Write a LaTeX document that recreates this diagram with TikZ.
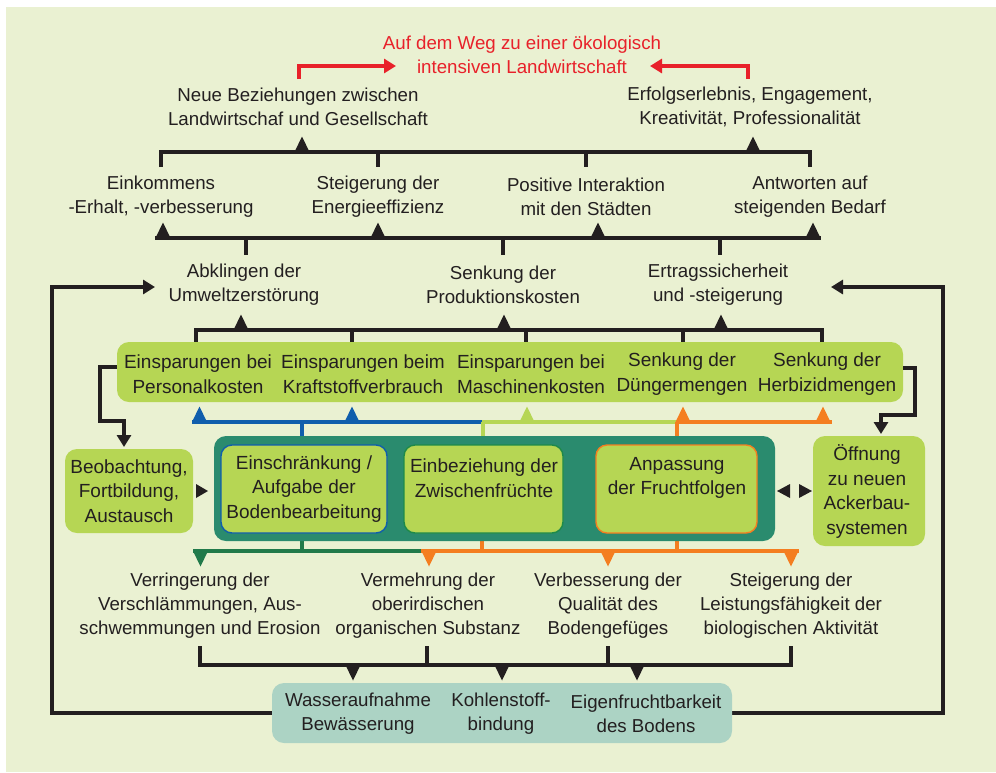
\documentclass[tikz,border=0pt]{standalone}
\usepackage{fontspec}
\setmainfont{Liberation Sans}
\usetikzlibrary{arrows.meta}
\definecolor{bgc}{HTML}{EAF1D2}
\definecolor{lgreen}{HTML}{B6D654}
\definecolor{dteal}{HTML}{2A8B6E}
\definecolor{bluec}{HTML}{105EAC}
\definecolor{orangec}{HTML}{F47E20}
\definecolor{dgreenc}{HTML}{217A4A}
\definecolor{bordergreen}{HTML}{1E8A4A}
\definecolor{redc}{HTML}{E8212A}
\definecolor{blk}{HTML}{231F20}
\definecolor{bottomc}{HTML}{ACD3C4}
\tikzset{
  txt/.style={align=center, font=\fontsize{18.7}{24}\selectfont, text=blk, inner sep=0pt},
  btxt/.style={align=center, font=\fontsize{19}{24.5}\selectfont, text=blk, inner sep=0pt},
  boxshape/.style={rounded corners=12pt, inner sep=0pt, outer sep=0pt},
  gbox/.style={boxshape, fill=lgreen},
  bl/.style={draw=blk, line width=3.3pt},
  cl/.style={line width=3.3pt},
  tipb/.style={-{Triangle[width=14pt,length=12pt]}},
  uptri/.pic={\fill (-7.5,0) -- (0,-15.5) -- (7.5,0) -- cycle;},
  dntri/.pic={\fill (-7.5,0) -- (0,15.5) -- (7.5,0) -- cycle;},
}
\begin{document}
\begin{tikzpicture}[x=1pt,y=-1pt]
\useasboundingbox (0,0) rectangle (996,772);
\fill[bgc] (6,7) rectangle (996,772);

% ---- goal
\node[txt, text=redc] (goal) at (522,55) {Auf dem Weg zu einer ökologisch\\intensiven Landwirtschaft};
\draw[redc, cl, tipb] (299,79) |- (396,66);
\draw[redc, cl, tipb] (748,79) |- (650,66);

% ---- level 1
\node[txt] (neue) at (298,107) {Neue Beziehungen zwischen\\Landwirtschaf und Gesellschaft};
\node[txt] (erfolg) at (750,107) {Erfolgserlebnis, Engagement,\\Kreativität, Professionalität};
\draw[bl] (161,167) |- (810,152) -- (810,167);
\draw[bl] (378,152) -- (378,167);
\draw[bl] (586,152) -- (586,167);
\foreach \x in {302,753} \pic[color=blk] at (\x,152) {uptri};

% ---- level 2
\node[txt] (einkommen) at (161,197) {Einkommens\\-Erhalt, -verbesserung};
\node[txt] (energie) at (378,197) {Steigerung der\\Energieeffizienz};
\node[txt] (positiv) at (586,197) {Positive Interaktion\\mit den Städten};
\node[txt] (antwort) at (810,197) {Antworten auf\\steigenden Bedarf};
\draw[bl] (155,238) -- (821,238);
\foreach \x in {163,378,598,813} \pic[color=blk] at (\x,238) {uptri};
\foreach \x in {246,503,720} \draw[bl] (\x,238) -- (\x,255);

% ---- level 3
\node[txt] (abkl) at (244,285) {Abklingen der\\Umweltzerstörung};
\node[txt] (senk) at (503,285) {Senkung der\\Produktionskosten};
\node[txt] (ertrag) at (718,285) {Ertragssicherheit\\und -steigerung};
\draw[bl] (196,342) |- (822,330) -- (822,342);
\foreach \x in {352,526,683} \draw[bl] (\x,330) -- (\x,342);
\foreach \x in {241,504,721} \pic[color=blk] at (\x,330) {uptri};

% ---- green top box
\node[gbox, minimum width=786pt, minimum height=60pt] (gtop) at (510,372) {};
\node[btxt] (personal) at (198,374) {Einsparungen bei\\Personalkosten};
\node[btxt] (kraft) at (363,374) {Einsparungen beim\\Kraftstoffverbrauch};
\node[btxt] (maschine) at (531,374) {Einsparungen bei\\Maschinenkosten};
\node[btxt] (duenger) at (682,374) {Senkung der\\Düngermengen};
\node[btxt] (herbizid) at (827,374) {Senkung der\\Herbizidmengen};

% ---- colored upper bars
\draw[bluec, cl] (192,422) -- (482,422);
\draw[bluec, cl] (302,422) -- (302,437);
\foreach \x in {199.5,352} \pic[color=bluec] at (\x,422) {uptri};
\draw[lgreen, cl] (482,422) -- (677,422);
\draw[lgreen, cl] (483,422) -- (483,437);
\pic[color=lgreen] at (527,422) {uptri};
\draw[orangec, cl] (677,422) -- (832,422);
\draw[orangec, cl] (677,422) -- (677,437);
\foreach \x in {683,823} \pic[color=orangec] at (\x,422) {uptri};

% ---- colored lower bars
\draw[dgreenc, cl] (193,551) -- (422,551);
\draw[dgreenc, cl] (302,539) -- (302,551);
\pic[color=dgreenc] at (200.5,551) {dntri};
\draw[orangec, cl] (421,551) -- (799,551);
\draw[orangec, cl] (482,539) -- (482,551);
\draw[orangec, cl] (677,539) -- (677,551);
\foreach \x in {429,608,791} \pic[color=orangec] at (\x,551) {dntri};

% ---- dark box with measures
\node[boxshape, fill=dteal, minimum width=561pt, minimum height=105pt] (dark) at (494.5,488.5) {};
\node[boxshape, rounded corners=11pt, fill=lgreen, draw=bluec, line width=1.4pt, minimum width=166pt, minimum height=88pt] (box1) at (304,489) {};
\node[btxt] at (box1.center) {Einschränkung /\\Aufgabe der\\Bodenbearbeitung};
\node[boxshape, rounded corners=11pt, fill=lgreen, draw=bordergreen, line width=1.4pt, minimum width=159pt, minimum height=88pt] (box2) at (483.5,489) {};
\node[btxt] at (484,478) {Einbeziehung der\\Zwischenfrüchte};
\node[boxshape, rounded corners=11pt, fill=lgreen, draw=orangec, line width=1.4pt, minimum width=161pt, minimum height=88pt] (box3) at (676.5,489) {};
\node[btxt] at (677,478) {Anpassung\\der Fruchtfolgen};

% ---- side boxes
\node[gbox, minimum width=128pt, minimum height=84pt] (beob) at (129,491) {};
\node[btxt] at (beob.center) {Beobachtung,\\Fortbildung,\\Austausch};
\node[gbox, minimum width=112pt, minimum height=110pt] (oeff) at (869,491) {};
\node[btxt] at (867,491.5) {Öffnung\\zu neuen\\Ackerbau-\\systemen};
\fill[blk] (196,484) -- (208,491) -- (196,498) -- cycle;
\fill[blk] (777,491) -- (790,484) -- (790,498) -- cycle;
\fill[blk] (812,491) -- (799,484) -- (799,498) -- cycle;
\draw[bl, tipb] (gtop.west |- 0,367) -| (100,421) -| (124,447);
\draw[bl, tipb] (gtop.east |- 0,368) -| (915,415) -| (881,434);

% ---- effects on soil
\node[txt] (verr) at (200,605.5) {Verringerung der\\Verschlämmungen, Aus-\\schwemmungen und Erosion};
\node[txt] (verm) at (428,605.5) {Vermehrung der\\oberirdischen\\organischen Substanz};
\node[txt] (verb) at (608,605.5) {Verbesserung der\\Qualität des\\Bodengefüges};
\node[txt] (steig) at (791,605.5) {Steigerung der\\Leistungsfähigkeit der\\biologischen Aktivität};
\draw[bl] (200,646) |- (791,665) -- (791,646);
\foreach \x in {427,608} \draw[bl] (\x,646) -- (\x,665);
\foreach \x in {353,502,637} \pic[color=blk] at (\x,665) {dntri};

% ---- loops
\draw[bl, tipb] (272,713) -| (52,287) -- (155,287);
\draw[bl, tipb] (732,713) -| (943,287) -- (831,287);

% ---- bottom box
\node[boxshape, fill=bottomc, minimum width=460pt, minimum height=60pt] (bottom) at (502,713) {};
\node[txt] at (358,713.5) {Wasseraufnahme\\Bewässerung};
\node[txt] at (501,713.5) {Kohlenstoff-\\bindung};
\node[txt] at (646,713.5) {Eigenfruchtbarkeit\\des Bodens};
\end{tikzpicture}
\end{document}
